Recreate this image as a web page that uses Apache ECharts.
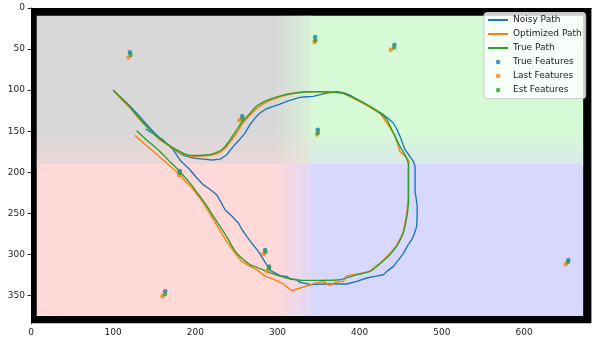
<!DOCTYPE html>
<html>
<head>
<meta charset="utf-8">
<script src="https://cdn.jsdelivr.net/npm/echarts@6/dist/echarts.min.js"></script>
<style>
html,body{margin:0;padding:0;background:#fff;}
#chart{width:592px;height:339px;}
</style>
</head>
<body>
<div id="chart"></div>
<script>
// ---------- DATA ----------
const xTicks = [0, 100, 200, 300, 400, 500, 600];
const yTicks = [0, 50, 100, 150, 200, 250, 300, 350];

const seriesNames = ['Noisy Path', 'Optimized Path', 'True Path', 'True Features', 'Last Features', 'Est Features'];

const noisyPath = [
  [100,100],[110,109.5],[120,119],[130,129.5],[140,141],[150,152],[160,161],[171,170],[180,176],[187.4,180],
  [199.5,183],[210,184],[220,185],[230,184],[238,179],[243,172.5],[248,166.4],[254,160],[260,153],[266.5,142],
  [272.6,134],[278.7,127.8],[286,123],[294.9,119.8],[303,117],[311.2,113.7],[320,111],[327.4,108.8],[335,108],
  [343.6,107.6],[352,105.5],[360,103.5],[366,102.8],[372,101.8],[380,103],[388,106],[400,113],[412,120],
  [425,127.5],[428.8,129.9],[434,134],[440.9,140],[445,147],[449.1,156.3],[452,164],[455.2,172.5],[460,179],
  [465.3,186.7],[467.4,192.8],[467.4,209],[467.4,225],[468.5,230],[470,241.5],[469.8,255],[469.4,265.9],
  [465.3,278.1],[463.3,282.1],[458,290],[453.1,299],[447,307],[440.9,314.6],[434,320],[428.8,324.7],[420,326.5],
  [408.6,328.7],[396.4,332.8],[384.2,336],[370,336],[355.7,336],[345,336.5],[339.5,336.9],[335.5,335.6],
  [327.4,334.1],[323.3,330.8],[315.2,329.9],[311.2,326.7],[303,325.9],[297,322.6],[292,320],[286.8,312.5],
  [276.6,296.3],[270,288],[262.5,278],[257,270],[252.3,261.7],[244,253],[236.1,245.6],[231,236],[225.9,227.3],
  [218,221],[209.6,215.1],[201,206],[193.5,196.9],[182,186],[173,172.5],[160,160],[150,154],[139.5,147.3]
];

const optimizedPath = [
  [100,100],[110,111],[120,121],[130,133],[139,143],[155,159],[171,170],[180,175.5],[188,179],[196,180.5],
  [204,180.5],[213,180],[220,179],[230,176],[237,170],[244,161],[253,148],[258,140],[266,131],[274,123],
  [283,116.5],[292,112],[305,107.5],[315,105],[325,102.5],[340,102],[356,102],[372,103],[380,104],[396,112],
  [412,120.5],[425,128.5],[429,134],[437,146],[443,156],[449,174.6],[456,181],[460.4,186.7],[459,195],[459,209],
  [459,233],[457,252],[453,273],[445,289],[437,299],[425,310.5],[412,320.5],[400.4,323.5],[384.2,325.9],
  [380,332.8],[370,334.1],[364,338.1],[356,332.8],[344,335.6],[331.4,339.7],[317.2,344.2],[307,336],[295,330],
  [286,327],[274.6,318.6],[264,313],[256.4,308.5],[248,298],[238,284.2],[230,271],[222,257.7],[214,244],
  [205.6,231.3],[195,218],[187.4,210.3],[181.3,202.9],[170,193],[155,180],[140,167],[126.5,155.1]
];

const truePath = [
  [100,100],[110,110],[120,120],[130,132],[139,142],[155,158],[171,169],[180,174],[188,178],[196,179.5],
  [204,179.5],[213,179],[220,178],[230,174],[236,169],[242,161],[252,146],[258,137],[265,130],[273,121],
  [282,115],[291,111],[307,106],[323,103.5],[340,102],[356,102],[372,102.5],[380,103.5],[396,111],[412,119.5],
  [425,128],[433,136],[441,152],[449,168.5],[457,182.5],[459.5,193],[459.5,209],[459.5,233],[457.5,253],
  [453,274],[445,290],[437,300],[425,311],[412.6,320.7],[396,325],[376,330.8],[352,331.6],[330,331.6],
  [311,328.7],[298,325],[287,320.7],[278,317],[266.5,312.5],[258,306],[250,298.3],[244,289],[238,278],
  [230,266],[222,253.7],[214,241],[205.6,229.4],[195,215],[181,199],[170,188],[155,173],[140,160],[128.5,149.4]
];

const trueFeatures = [
  [120.3,54],[257,131.7],[181.1,198.5],[345.7,35.2],[442.3,44.6],[349,148.3],[284.9,294.5],[289.8,314.7],[163.3,345],[654,306.7]
];
const lastFeatures = [
  [118.7,60.4],[253.8,136.6],[180.3,203.4],[345,41.3],[437.8,50.7],[348.2,153.9],[282.9,299.4],[287.3,320.4],[160.1,350.8],[650.7,311.9]
];
const estFeatures = [
  [121.2,57.1],[257.4,134.9],[181.1,200.5],[346.2,39.4],[441.9,48.2],[349,151.9],[285.4,297],[289.4,317.1],[162.9,348.4],[653.5,309.1]
];

// ---------- BACKGROUND IMAGE (extent and regions in image units) ----------
const imgW = 682, imgH = 384;
const inner = {x0: 7, y0: 9.5, x1: 672, y1: 375};
const splitX = 340, splitY = 190, bandX0 = 298, bandY0 = 150;
const C = {
  gray: [216,216,216], green: [214,250,214], pink: [255,216,216], blue: [216,216,255]
};
function rgba(c, a){ return 'rgba(' + c[0] + ',' + c[1] + ',' + c[2] + ',' + a + ')'; }
function grad(dir, c, a0, a1){
  const g = dir === 'h' ? [0,0,1,0] : [0,0,0,1];
  return new echarts.graphic.LinearGradient(g[0], g[1], g[2], g[3], [
    {offset: 0, color: rgba(c, a0)}, {offset: 1, color: rgba(c, a1)}
  ]);
}
const bgShapes = [
  {r: [0, 0, imgW, imgH], fill: () => '#000000'},
  {r: [inner.x0, inner.y0, splitX + 2, splitY + 2], fill: () => rgba(C.gray, 1)},
  {r: [inner.x0, splitY, splitX + 2, inner.y1], fill: () => rgba(C.pink, 1)},
  {r: [splitX, inner.y0, inner.x1, splitY + 2], fill: () => rgba(C.green, 1)},
  {r: [splitX, splitY, inner.x1, inner.y1], fill: () => rgba(C.blue, 1)},
  {r: [bandX0, inner.y0, splitX, splitY], fill: () => grad('h', C.green, 0, 0.7)},
  {r: [bandX0, splitY, splitX, inner.y1], fill: () => grad('h', C.blue, 0, 0.75)},
  {r: [inner.x0, bandY0, splitX, splitY], fill: () => grad('v', C.pink, 0, 0.5)},
  {r: [splitX, bandY0, inner.x1, splitY], fill: () => grad('v', C.blue, 0, 0.5)}
];

// ---------- CHART ----------
const FONT = 'DejaVu Sans';
const chart = echarts.init(document.getElementById('chart'), null, {renderer: 'canvas'});

const lineColors = ['#1f77b4', '#ff7f0e', '#2ca02c'];
const hiddenDot = {opacity: 0};

const option = {
  animation: false,
  backgroundColor: '#ffffff',
  grid: {left: 31, top: 8, width: 560.4, height: 315.4, containLabel: false},
  xAxis: {
    type: 'value', min: 0, max: imgW,
    splitLine: {show: false},
    axisLine: {show: true, lineStyle: {color: '#000', width: 0.8}},
    axisTick: {show: true, inside: false, length: 3.5, lineStyle: {color: '#000', width: 0.8}, customValues: xTicks},
    axisLabel: {customValues: xTicks, color: '#222', fontFamily: FONT, fontSize: 9, margin: 5}
  },
  yAxis: {
    type: 'value', min: 0, max: imgH, inverse: true,
    splitLine: {show: false},
    axisLine: {show: true, lineStyle: {color: '#000', width: 0.8}},
    axisTick: {show: true, inside: false, length: 3.5, lineStyle: {color: '#000', width: 0.8}, customValues: yTicks},
    axisLabel: {customValues: yTicks, color: '#222', fontFamily: FONT, fontSize: 9, margin: 6}
  },
  legend: {
    orient: 'vertical', left: 484, top: 12.5,
    padding: [2, 4, 3, 3],
    itemWidth: 20, itemHeight: 4.5, itemGap: 3,
    backgroundColor: 'rgba(255,255,255,0.8)',
    borderColor: '#cccccc', borderWidth: 1, borderRadius: 3,
    textStyle: {fontFamily: FONT, fontSize: 9, color: '#222', lineHeight: 11},
    data: [
      {name: seriesNames[0], itemStyle: hiddenDot}, {name: seriesNames[1], itemStyle: hiddenDot}, {name: seriesNames[2], itemStyle: hiddenDot},
      {name: seriesNames[3], icon: 'circle'}, {name: seriesNames[4], icon: 'circle'}, {name: seriesNames[5], icon: 'circle'}
    ]
  },
  series: [
    {
      type: 'custom', name: 'bg', silent: true, z: 0, clip: true,
      data: bgShapes.map((s, i) => [s.r[0], s.r[1], s.r[2], s.r[3], i]),
      encode: {x: [0, 2], y: [1, 3]},
      renderItem: function (params, api) {
        const a = api.coord([api.value(0), api.value(1)]);
        const b = api.coord([api.value(2), api.value(3)]);
        const s = bgShapes[api.value(4)];
        return {
          type: 'rect',
          shape: {x: Math.min(a[0], b[0]), y: Math.min(a[1], b[1]), width: Math.abs(b[0] - a[0]), height: Math.abs(b[1] - a[1])},
          style: {fill: s.fill()}
        };
      }
    },
    {type: 'line', name: seriesNames[0], data: noisyPath, symbol: 'none', z: 3,
     lineStyle: {color: lineColors[0], width: 1.4}, itemStyle: {color: lineColors[0]}},
    {type: 'line', name: seriesNames[1], data: optimizedPath, symbol: 'none', z: 3,
     lineStyle: {color: lineColors[1], width: 1.4}, itemStyle: {color: lineColors[1]}},
    {type: 'line', name: seriesNames[2], data: truePath, symbol: 'none', z: 3, smooth: 0.2,
     lineStyle: {color: lineColors[2], width: 1.4}, itemStyle: {color: lineColors[2]}},
    {type: 'scatter', name: seriesNames[3], data: trueFeatures, symbol: 'circle', symbolSize: 4.5, z: 4,
     itemStyle: {color: lineColors[0]}},
    {type: 'scatter', name: seriesNames[4], data: lastFeatures, symbol: 'circle', symbolSize: 4.5, z: 4,
     itemStyle: {color: lineColors[1]}},
    {type: 'scatter', name: seriesNames[5], data: estFeatures, symbol: 'circle', symbolSize: 4.5, z: 4,
     itemStyle: {color: lineColors[2]}}
  ]
};
chart.setOption(option);
</script>
</body>
</html>
